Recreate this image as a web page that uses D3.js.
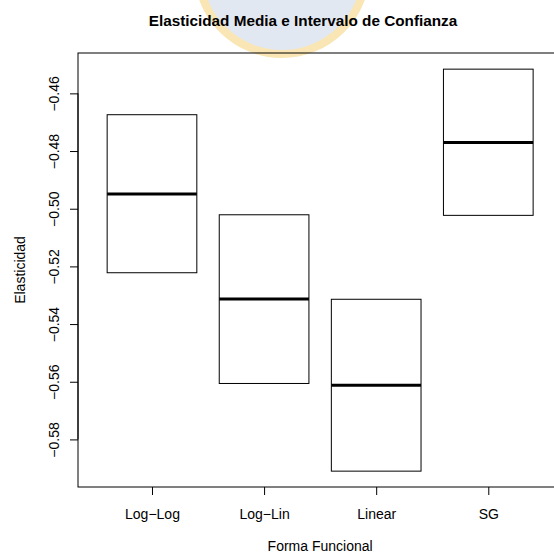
<!DOCTYPE html>
<html>
<head>
<meta charset="utf-8">
<script src="https://cdn.jsdelivr.net/npm/d3@7"></script>
<style>
  body { margin: 0; background: #fff; }
  text { font-family: "Liberation Sans", Arial, sans-serif; fill: #000; }
</style>
</head>
<body>
<div id="chart"></div>
<script>
const categories = ['Log\u2212Log', 'Log\u2212Lin', 'Linear', 'SG'];
const upper = [-0.4674, -0.5021, -0.5314, -0.4516];
const means = [-0.4949, -0.5313, -0.5612, -0.4770];
const lower = [-0.5222, -0.5606, -0.5910, -0.5023];
const yTicks = [-0.46, -0.48, -0.50, -0.52, -0.54, -0.56, -0.58];

const width = 554, height = 555;
const plot = { left: 78, top: 53, bottom: 487 };

const svg = d3.select('#chart').append('svg').attr('width', width).attr('height', height);

// faint logo watermark behind the title
const logo = svg.append('g');
logo.append('circle').attr('cx', 282).attr('cy', -30).attr('r', 84)
  .style('fill', '#e2e8f1').style('stroke', '#f9e6b4').style('stroke-width', 8);

const n = categories.length;
const x = d3.scaleLinear().domain([0.5 - 0.04 * n, n + 0.5 + 0.04 * n]).range([plot.left, plot.left + 4.32 * 112.1]);
const y = d3.scaleLinear().domain([-0.5965, -0.446]).range([plot.bottom, plot.top]);

svg.append('rect')
  .attr('x', x.range()[0]).attr('y', plot.top)
  .attr('width', x.range()[1] - x.range()[0]).attr('height', plot.bottom - plot.top)
  .style('fill', 'none').style('stroke', '#000').style('stroke-width', 1);

const boxW = 0.8;
const groups = svg.selectAll('g.box').data(categories).enter().append('g').attr('class', 'box');

groups.append('rect')
  .attr('x', (d, i) => x(i + 1 - boxW / 2))
  .attr('y', (d, i) => y(upper[i]))
  .attr('width', x(1 + boxW) - x(1))
  .attr('height', (d, i) => y(lower[i]) - y(upper[i]))
  .style('fill', '#fff').style('stroke', '#000').style('stroke-width', 1);

groups.append('line')
  .attr('x1', (d, i) => x(i + 1 - boxW / 2))
  .attr('x2', (d, i) => x(i + 1 + boxW / 2))
  .attr('y1', (d, i) => y(means[i]))
  .attr('y2', (d, i) => y(means[i]))
  .style('stroke', '#000').style('stroke-width', 3);

const yAxis = svg.append('g').attr('transform', `translate(${plot.left},0)`)
  .call(d3.axisLeft(y).tickValues(yTicks).tickSize(8).tickFormat((d) => d3.format('.2f')(d).replace('-', '\u2212')));
yAxis.select('.domain').remove();
yAxis.selectAll('line').style('stroke', '#000');
yAxis.append('line').attr('y1', y(yTicks[0])).attr('y2', y(yTicks[yTicks.length - 1])).style('stroke', '#000');
yAxis.selectAll('text')
  .attr('x', null).attr('dy', null).attr('y', 0)
  .attr('transform', 'translate(-19,0) rotate(-90)')
  .style('text-anchor', 'middle')
  .style('font-size', '14px')
  .style('font-family', '"Liberation Sans", Arial, sans-serif')
  .style('fill', '#000');

const xAxis = svg.append('g').attr('transform', `translate(0,${plot.bottom})`)
  .call(d3.axisBottom(x).tickValues(d3.range(1, n + 1)).tickSize(8).tickFormat((d) => categories[d - 1]));
xAxis.select('.domain').remove();
xAxis.selectAll('line').style('stroke', '#000');
xAxis.selectAll('text')
  .attr('y', 32).attr('dy', null)
  .style('font-size', '14px')
  .style('font-family', '"Liberation Sans", Arial, sans-serif')
  .style('fill', '#000');

svg.append('text')
  .attr('x', 303).attr('y', 26)
  .style('text-anchor', 'middle').style('font-size', '15.3px').style('font-weight', 'bold')
  .text('Elasticidad Media e Intervalo de Confianza');

svg.append('text')
  .attr('x', x(2.5)).attr('y', 551)
  .style('text-anchor', 'middle').style('font-size', '14px')
  .text('Forma Funcional');

svg.append('text')
  .attr('transform', `translate(25,${(plot.top + plot.bottom) / 2}) rotate(-90)`)
  .style('text-anchor', 'middle').style('font-size', '14px')
  .text('Elasticidad');
</script>
</body>
</html>
